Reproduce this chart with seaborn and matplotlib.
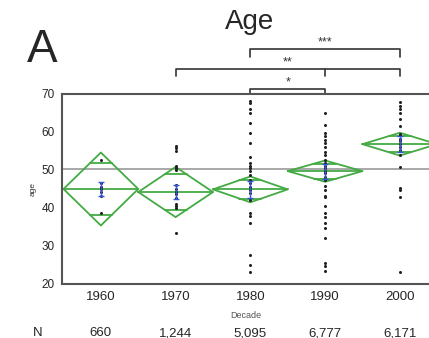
import numpy as np
import pandas as pd
import matplotlib
matplotlib.use("Agg")
from matplotlib import pyplot as plt
import seaborn as sns

decades = ['1960', '1970', '1980', '1990', '2000']
counts = ['660', '1,244', '5,095', '6,777', '6,171']
means = [45.0, 44.2, 44.9, 49.7, 56.8]
ci_half = [9.6, 6.6, 3.4, 2.8, 3.0]
se = [1.9, 1.8, 2.3, 2.0, 2.1]
grand_mean = 50.2

ages_1960 = [52.6, 46.5, 45.6, 45.0, 44.2, 43.2, 38.7]
ages_1970 = [56.3, 55.7, 55.0, 51.0, 50.5, 50.0, 46.0, 45.0, 44.3, 43.6, 42.6,
             41.0, 40.4, 40.0, 33.5]
ages_1980 = [68.2, 67.6, 66.0, 64.9, 62.3, 59.8, 57.0, 53.5, 51.8, 51.1, 50.4,
             49.8, 48.7, 47.4, 46.5, 45.6, 44.8, 43.9, 42.1, 38.6, 37.9, 36.0,
             27.6, 25.0, 23.2]
ages_1990 = [64.9, 61.8, 59.8, 58.9, 57.9, 57.0, 56.1, 54.8, 53.9, 52.6, 51.8,
             51.1, 50.4, 49.8, 49.1, 48.2, 47.4, 45.8, 44.7, 43.2, 42.8, 40.4,
             38.6, 37.7, 36.0, 34.7, 32.1, 25.5, 24.8, 23.5]
ages_2000 = [68.0, 66.8, 66.0, 64.9, 63.3, 61.6, 59.6, 59.2, 58.1, 57.5, 56.8,
             56.1, 55.3, 53.9, 50.7, 45.2, 44.7, 43.0, 23.2]

# significance brackets: (left group, right group, label)
brackets = [(2, 4, '***'), (1, 4, '**'), (2, 3, '*')]

all_ages = [ages_1960, ages_1970, ages_1980, ages_1990, ages_2000]
df = pd.DataFrame({
    'decade': [d for d, a in zip(decades, all_ages) for _ in a],
    'age': [v for a in all_ages for v in a],
})

sns.set_style('white')
plt.rcParams['font.family'] = ['Liberation Sans', 'DejaVu Sans']

fig = plt.figure(figsize=(4.29, 3.38), dpi=100)
ax = fig.add_axes([62 / 429, 54 / 338, 1 - 62 / 429, 190 / 338])

green = '#44aa44'
blue = '#3355dd'

ax.axhline(grand_mean, color='#999999', lw=1.2, zorder=1)

sns.stripplot(data=df, x='decade', y='age', order=decades, jitter=False,
              color='#222222', size=2.2, ax=ax, zorder=3)

hw = 0.5
for i, (m, c, s) in enumerate(zip(means, ci_half, se)):
    xs = [i - hw, i, i + hw, i, i - hw]
    ys = [m, m + c, m, m - c, m]
    ax.plot(xs, ys, color=green, lw=1.3, zorder=2)
    ax.plot([i - hw, i + hw], [m, m], color=green, lw=1.3, zorder=2)
    off = c / np.sqrt(2)
    w = hw * (1 - 1 / np.sqrt(2))
    for sgn in (1, -1):
        ax.plot([i - w, i + w], [m + sgn * off, m + sgn * off], color=green,
                lw=1.3, zorder=2)
    ax.errorbar(i, m, yerr=s, color=blue, capsize=2, lw=1, capthick=1,
                zorder=4)

ax.set_xlim(-0.52, 4.39)
ax.set_ylim(20, 70)
ax.set_yticks(range(20, 71, 10))
ax.set_yticks(range(25, 70, 10), minor=True)
ax.set_xticks(range(5))
ax.set_xticklabels(decades, fontsize=9.5)
ax.set_xticks([0.5, 1.5, 2.5, 3.5], minor=True)
ax.tick_params(axis='x', which='major', length=0, pad=5)
ax.tick_params(axis='x', which='minor', length=3, direction='out', width=1)
ax.tick_params(axis='y', which='major', length=4, direction='out', labelsize=8.5, pad=1)
ax.tick_params(axis='y', which='minor', length=2, direction='out')
for side in ('left', 'bottom', 'top'):
    ax.spines[side].set_color('#555555')
    ax.spines[side].set_linewidth(1.5)
ax.spines['right'].set_visible(False)
ax.set_xlabel('Decade', fontsize=6.5, color='#555555', labelpad=6)
ax.set_ylabel('age', fontsize=6, color='#333333', labelpad=4)

# brackets above the plot
level_y = {'***': (81.8, 79.7), '**': (76.6, 74.8), '*': (71.3, 70.2)}
for a, b, lab in brackets:
    top, bot = level_y[lab]
    ax.plot([a, a, b, b], [bot, top, top, bot], color='#333333', lw=1.2,
            clip_on=False)
    ax.text((a + b) / 2, top + 0.1, lab,
            ha='center', va='bottom', fontsize=9, color='#333333')
ax.plot([3, 3], [76.6, 74.8], color='#333333', lw=1.2, clip_on=False)

# N row
for i, n in enumerate(counts):
    ax.text(i, 7.0, n, ha='center', va='center', fontsize=9.5)
ax.text(-0.84, 7.0, 'N', ha='center', va='center', fontsize=9.5)

fig.text(250 / 429, 1 - 22 / 338, 'Age', ha='center', va='center', fontsize=20)
fig.text(42 / 429, 1 - 50 / 338, 'A', ha='center', va='center', fontsize=33)

fig.savefig('out.png', dpi=100)
